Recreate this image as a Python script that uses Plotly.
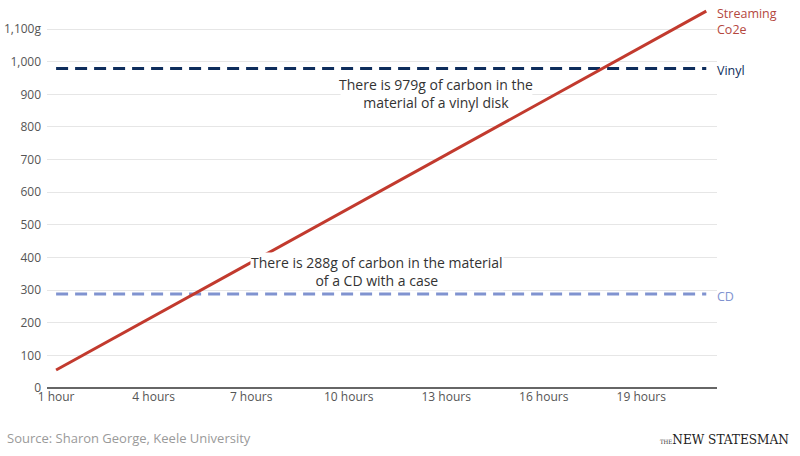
import plotly.graph_objects as go

hours = list(range(1, 22))
streaming = [55, 110, 165, 220, 275, 330, 385, 440, 495, 550, 605, 660, 715, 770,
             825, 880, 935, 990, 1045, 1100, 1155]
vinyl_value = 979
cd_value = 288
x_tick_vals = [1, 4, 7, 10, 13, 16, 19]
x_tick_text = ["1 hour", "4 hours", "7 hours", "10 hours", "13 hours", "16 hours", "19 hours"]
y_tick_vals = [0, 100, 200, 300, 400, 500, 600, 700, 800, 900, 1000, 1100]
y_tick_text = ["0", "100", "200", "300", "400", "500", "600", "700", "800", "900", "1,000", "1,100g"]
vinyl_note = ["There is 979g of carbon in the", "material of a vinyl disk"]
cd_note = ["There is 288g of carbon in the material", "of a CD with a case"]

RED = "#c23a2e"
NAVY = "#0e2d5c"
PERI = "#8093d0"
FONT = "Open Sans"

L, R, T, B = 47, 83, 3, 68
PW, PH = 800 - L - R, 456 - T - B

fig = go.Figure()
fig.add_trace(go.Scatter(x=hours, y=[cd_value] * len(hours), mode="lines",
                         line=dict(color=PERI, width=3, dash="12px,7px"), hoverinfo="skip"))
fig.add_trace(go.Scatter(x=hours, y=[vinyl_value] * len(hours), mode="lines",
                         line=dict(color=NAVY, width=3, dash="12px,7px"), hoverinfo="skip"))
fig.add_trace(go.Scatter(x=hours, y=streaming, mode="lines",
                         line=dict(color=RED, width=3), hoverinfo="skip"))

# white patch hiding the gridline behind the vinyl note (drawn under the traces)
fig.add_shape(type="rect", xref="x", yref="y", x0=9.75, x1=15.65, y0=845, y1=950,
              fillcolor="white", line=dict(width=0), layer="between")

note_font = dict(family=FONT, size=14, color="#333333")
ann = [
    dict(x=hours[-1], y=streaming[-1], xref="x", yref="y", text="Streaming<br>Co2e",
         showarrow=False, xanchor="left", yanchor="middle", xshift=9, yshift=-10,
         align="left", font=dict(family=FONT, size=12.5, color="#b4473e")),
    dict(x=hours[-1], y=vinyl_value, xref="x", yref="y", text="Vinyl",
         showarrow=False, xanchor="left", yanchor="middle", xshift=9, yshift=-2,
         font=dict(family=FONT, size=12.5, color=NAVY)),
    dict(x=hours[-1], y=cd_value, xref="x", yref="y", text="CD",
         showarrow=False, xanchor="left", yanchor="middle", xshift=9, yshift=-2,
         font=dict(family=FONT, size=12.5, color=PERI)),
    dict(x=12.69, y=vinyl_value, xref="x", yref="y", yshift=-(95 - 70), text="<br>".join(vinyl_note),
         showarrow=False, xanchor="center", yanchor="middle", font=note_font),
    dict(x=10.86, y=cd_value, xref="x", yref="y", yshift=(294 - 271.5), text="<br>".join(cd_note),
         showarrow=False, xanchor="center", yanchor="middle", bgcolor="white",
         borderpad=0, font=note_font),
    dict(x=(5 - L) / PW, y=(456 - B - 438) / PH, xref="paper", yref="paper",
         xanchor="left", yanchor="middle",
         text="Source: Sharon George, Keele University", showarrow=False,
         font=dict(family=FONT, size=13, color="#9a9a9a")),
    dict(x=(791 - L) / PW, y=(456 - B - 439) / PH, xref="paper", yref="paper",
         xanchor="right", yanchor="middle",
         text="<span style='font-size:6px'>THE</span>NEW STATESMAN", showarrow=False,
         font=dict(family="DejaVu Serif Condensed", size=13.5, color="#222222")),
]

fig.update_layout(
    width=800, height=456,
    margin=dict(l=L, r=R, t=T, b=B, autoexpand=False),
    paper_bgcolor="white", plot_bgcolor="white",
    showlegend=False,
    font=dict(family=FONT, size=12, color="#555555"),
    xaxis=dict(range=[0.72, 21.33], tickmode="array", tickvals=x_tick_vals, ticktext=x_tick_text,
               showgrid=False, zeroline=False, showline=False, ticks="", automargin=False,
               tickfont=dict(family=FONT, size=12, color="#555555")),
    yaxis=dict(range=[0, 1180], tickmode="array", tickvals=y_tick_vals, ticktext=y_tick_text,
               showgrid=True, gridcolor="#e6e6e6", gridwidth=1, zeroline=True,
               zerolinecolor="#666666", zerolinewidth=1.5, showline=False, ticks="",
               ticklabelstandoff=5, automargin=False,
               tickfont=dict(family=FONT, size=12, color="#555555")),
    annotations=ann,
)

fig.write_html("out.html", config={"displayModeBar": False},
               post_script="document.body.style.margin='0';document.body.style.overflow='hidden';")
